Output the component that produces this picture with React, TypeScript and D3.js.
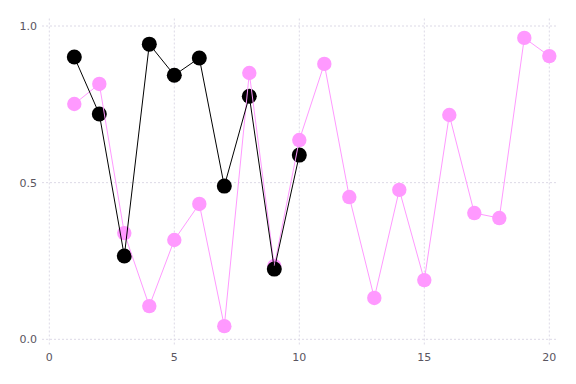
import React from "react";
import * as d3 from "d3";

const xs1 = [1, 2, 3, 4, 5, 6, 7, 8, 9, 10];
const black = [0.901, 0.719, 0.266, 0.942, 0.843, 0.898, 0.489, 0.776, 0.224, 0.588];
const xs2 = [1, 2, 3, 4, 5, 6, 7, 8, 9, 10, 11, 12, 13, 14, 15, 16, 17, 18, 19, 20];
const pink = [0.751, 0.815, 0.339, 0.106, 0.317, 0.432, 0.042, 0.85, 0.234, 0.636, 0.879, 0.454, 0.132, 0.477, 0.189, 0.716, 0.403, 0.387, 0.962, 0.904];
const xTicks = [0, 5, 10, 15, 20];
const yTicks = [0, 0.5, 1.0];

export default function App() {
  const W = 576, H = 384;
  const x = d3.scaleLinear().domain([0, 20]).range([49.3, 549.3]);
  const y = d3.scaleLinear().domain([0, 1]).range([339.3, 26]);
  const line = d3.line<[number, number]>().x(d => x(d[0])).y(d => y(d[1]));
  const bData: [number, number][] = xs1.map((v, i) => [v, black[i]]);
  const pData: [number, number][] = xs2.map((v, i) => [v, pink[i]]);
  const gridColor = "#dcd9e6";
  const pinkColor = "#ff99ff";
  return (
    <svg width={W} height={H} style={{ position: "absolute", left: 0, top: 0, background: "#fff" }}>
      <g>
        {yTicks.map(t => (
          <line key={"h" + t} x1={42} x2={557} y1={y(t)} y2={y(t)} stroke={gridColor} strokeWidth={1} strokeDasharray="2,2" />
        ))}
        {xTicks.map(t => (
          <line key={"v" + t} x1={x(t)} x2={x(t)} y1={18.5} y2={345} stroke={gridColor} strokeWidth={1} strokeDasharray="2,2" />
        ))}
      </g>
      <g fontFamily="DejaVu Sans" fontSize={11} fill="#5a5560">
        {yTicks.map(t => (
          <text key={"yl" + t} x={37} y={y(t)} dy="0.35em" textAnchor="end">{d3.format(".1f")(t)}</text>
        ))}
        {xTicks.map(t => (
          <text key={"xl" + t} x={x(t)} y={361} textAnchor="middle">{t}</text>
        ))}
      </g>
      <g>
        {pData.map((d, i) => (
          <circle key={"pc" + i} cx={x(d[0])} cy={y(d[1])} r={7.2} fill={pinkColor} />
        ))}
        {bData.map((d, i) => (
          <circle key={"bc" + i} cx={x(d[0])} cy={y(d[1])} r={7.5} fill="#000" />
        ))}
      </g>
      <path d={line(pData) || ""} fill="none" stroke={pinkColor} strokeWidth={1} />
      <path d={line(bData) || ""} fill="none" stroke="#000" strokeWidth={1} />
    </svg>
  );
}
